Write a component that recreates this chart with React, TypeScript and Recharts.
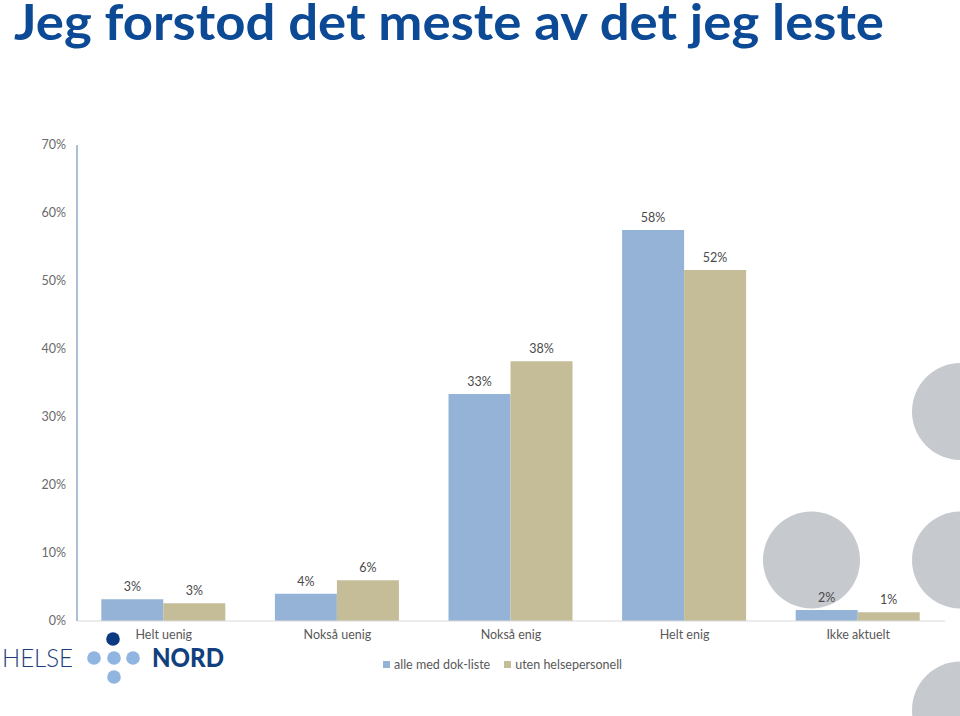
import { BarChart, Bar, XAxis, YAxis, LabelList, Legend } from "recharts";

const categories = ["Helt uenig", "Nokså uenig", "Nokså enig", "Helt enig", "Ikke aktuelt"];
const withList = [3.2, 4.0, 33.4, 57.5, 1.6];
const withoutStaff = [2.6, 6.0, 38.2, 51.6, 1.3];
const yTicks = [0, 10, 20, 30, 40, 50, 60, 70];
const seriesNames = ["alle med dok-liste", "uten helsepersonell"];

const BLUE = "#95B3D7";
const TAN = "#C4BD97";
const FONT = "Lato, 'Open Sans', sans-serif";

const data = categories.map((name, i) => ({
  name,
  a: withList[i],
  b: withoutStaff[i],
}));

function LegendBox() {
  const colors = [BLUE, TAN];
  return (
    <div style={{ display: "flex", gap: 14, fontFamily: FONT, fontSize: 12.5, color: "#595959" }}>
      {seriesNames.map((n, i) => (
        <span key={n} style={{ display: "flex", alignItems: "center" }}>
          <span style={{ width: 7, height: 7, background: colors[i], marginRight: 4, display: "inline-block" }} />
          {n}
        </span>
      ))}
    </div>
  );
}

export default function App() {
  return (
    <div
      style={{
        position: "absolute",
        left: 0,
        top: 0,
        width: 960,
        height: 716,
        overflow: "hidden",
        background: "#fff",
      }}
    >
      {/* decorative circles */}
      <svg width={960} height={716} style={{ position: "absolute", left: 0, top: 0 }}>
        <circle cx={960.5} cy={411.5} r={48.5} fill="#C6C9CE" />
        <circle cx={811.5} cy={560} r={48.5} fill="#C6C9CE" />
        <circle cx={960.5} cy={560} r={48.5} fill="#C6C9CE" />
        <circle cx={960.5} cy={710} r={48.5} fill="#C6C9CE" />
      </svg>

      <div style={{ position: "absolute", left: 0, top: 0 }}>
        <BarChart
          width={960}
          height={716}
          data={data}
          margin={{ top: 145, right: 15, bottom: 65, left: 17 }}
          barCategoryGap="14%"
          barGap={0}
        >
          <YAxis
            width={60}
            domain={[0, 70]}
            ticks={yTicks}
            tickFormatter={(v) => `${v}%`}
            tickLine={false}
            tickSize={0}
            tickMargin={11}
            axisLine={{ stroke: "#8EA9CA", strokeWidth: 1.5 }}
            tick={{ fill: "#6a6a6a", fontSize: 12.5, fontFamily: FONT }}
          />
          <XAxis
            dataKey="name"
            height={30}
            tickLine={false}
            tickSize={0}
            tickMargin={9}
            axisLine={{ stroke: "#D9D9D9" }}
            tick={{ fill: "#595959", fontSize: 12.5, fontFamily: FONT }}
          />
          <Legend
            layout="horizontal"
            verticalAlign="middle"
            align="center"
            wrapperStyle={{ top: 657, left: 383, width: 300, height: 18 }}
            content={() => <LegendBox />}
          />
          <Bar dataKey="a" name={seriesNames[0]} fill={BLUE} isAnimationActive={false}>
            <LabelList
              dataKey="a"
              position="top"
              offset={8}
              formatter={(v: any) => `${Math.round(v)}%`}
              style={{ fill: "#4a4a4a", fontSize: 12.5, fontFamily: FONT }}
            />
          </Bar>
          <Bar dataKey="b" name={seriesNames[1]} fill={TAN} isAnimationActive={false}>
            <LabelList
              dataKey="b"
              position="top"
              offset={8}
              formatter={(v: any) => `${Math.round(v)}%`}
              style={{ fill: "#4a4a4a", fontSize: 12.5, fontFamily: FONT }}
            />
          </Bar>
        </BarChart>
      </div>

      {/* title + logo */}
      <svg width={960} height={716} style={{ position: "absolute", left: 0, top: 0, pointerEvents: "none" }}>
        <text
          x={14}
          y={40}
          textLength={870}
          lengthAdjust="spacingAndGlyphs"
          style={{ fontFamily: FONT, fontWeight: 700, fontSize: 50, fill: "#0D4A96" }}
        >
          Jeg forstod det meste av det jeg leste
        </text>
        <text
          x={2}
          y={667}
          textLength={71}
          lengthAdjust="spacingAndGlyphs"
          style={{ fontFamily: FONT, fontWeight: 300, fontSize: 26, fill: "#1C3F7C" }}
        >
          HELSE
        </text>
        <circle cx={113} cy={639} r={6.8} fill="#0B3A82" />
        <circle cx={94} cy={658} r={6.8} fill="#8FB5E0" />
        <circle cx={114} cy={658} r={6.8} fill="#8FB5E0" />
        <circle cx={133} cy={658} r={6.8} fill="#8FB5E0" />
        <circle cx={114} cy={677} r={6.8} fill="#8FB5E0" />
        <text
          x={152}
          y={667}
          textLength={72}
          lengthAdjust="spacingAndGlyphs"
          style={{ fontFamily: FONT, fontWeight: 900, fontSize: 27, fill: "#123F7E" }}
        >
          NORD
        </text>
      </svg>
    </div>
  );
}
